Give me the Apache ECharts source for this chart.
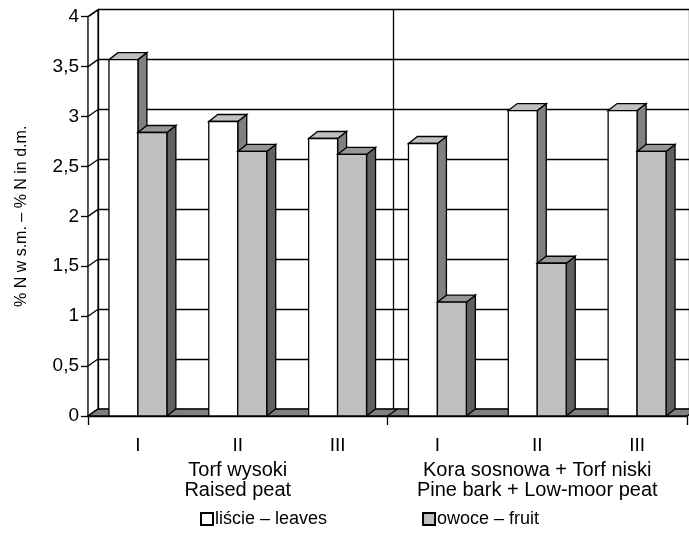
<!DOCTYPE html>
<html>
<head>
<meta charset="utf-8">
<script src="https://cdn.jsdelivr.net/npm/echarts@6/dist/echarts.min.js"></script>
<style>
  html, body { margin: 0; padding: 0; background: #fff; }
  #chart { width: 689px; height: 544px; }
</style>
</head>
<body>
<div id="chart"></div>
<script>
// Nitrogen content (% of dry matter) in leaves and fruit, per substrate and treatment
const categories = ['I', 'II', 'III', 'I', 'II', 'III'];
const groups = ['Torf wysoki\nRaised peat', 'Kora sosnowa + Torf niski\nPine bark + Low-moor peat'];
const leaves = [3.57, 2.95, 2.78, 2.73, 3.06, 3.06];
const fruit = [2.84, 2.65, 2.62, 1.14, 1.53, 2.65];
const seriesNames = ['liście – leaves', 'owoce – fruit'];
const yTicks = [0, 0.5, 1, 1.5, 2, 2.5, 3, 3.5, 4];

// plot geometry (front plane) and the oblique depth of the walls / bars
const G = { left: 88, top: 16.7, width: 599, height: 399.3 };
const WALL = { dx: 10, dy: -7 };
const BAR = { dx: 9, dy: -7, width: 0.29 };
const FONT = 'Liberation Sans, Arial, sans-serif';
const FS = 19;

const chart = echarts.init(document.getElementById('chart'), null, { renderer: 'canvas' });

// 3D-looking column: front face, top face, right side face
function columnRenderer(offsetSign, colors) {
  return function (params, api) {
    const i = api.value(0);
    const v = api.value(1);
    const base = api.coord([i, 0]);
    const top = api.coord([i, v]);
    const bw = api.size([1, 0])[0] * BAR.width;
    const x0 = offsetSign < 0 ? base[0] - bw : base[0];
    const x1 = x0 + bw;
    const y0 = top[1];
    const y1 = base[1];
    const line = { stroke: '#000', lineWidth: 1.3 };
    return {
      type: 'group',
      children: [
        { type: 'polygon', shape: { points: [[x1, y1], [x1 + BAR.dx, y1 + BAR.dy], [x1 + BAR.dx, y0 + BAR.dy], [x1, y0]] },
          style: Object.assign({ fill: colors.side }, line) },
        { type: 'polygon', shape: { points: [[x0, y0], [x0 + BAR.dx, y0 + BAR.dy], [x1 + BAR.dx, y0 + BAR.dy], [x1, y0]] },
          style: Object.assign({ fill: colors.top }, line) },
        { type: 'rect', shape: { x: x0, y: y0, width: bw, height: y1 - y0 },
          style: Object.assign({ fill: colors.front }, line) }
      ]
    };
  };
}

// left wall and floor of the plot box, built from the axis scales
function boxRenderer(params, api) {
  if (params.dataIndex !== 0) return null;
  const half = api.size([1, 0])[0] / 2;
  const edge = function (catIndex, v) {
    const p = api.coord([catIndex, v]);
    return [p[0] - half, p[1]];
  };
  const children = [];
  const line = { stroke: '#000', lineWidth: 1.3 };
  const f0 = edge(0, 0);
  const fN = edge(categories.length, 0);
  const f4 = edge(0, yTicks[yTicks.length - 1]);
  // left wall
  children.push({ type: 'polygon', shape: { points: [f0, f4, [f4[0] + WALL.dx, f4[1] + WALL.dy], [f0[0] + WALL.dx, f0[1] + WALL.dy]] },
    style: { fill: '#fff', stroke: '#000', lineWidth: 1.3 } });
  yTicks.forEach(function (t) {
    const p = edge(0, t);
    children.push({ type: 'line', shape: { x1: p[0], y1: p[1], x2: p[0] + WALL.dx, y2: p[1] + WALL.dy }, style: line });
  });
  // floor
  children.push({ type: 'polygon', shape: { points: [f0, fN, [fN[0] + WALL.dx, fN[1] + WALL.dy], [f0[0] + WALL.dx, f0[1] + WALL.dy]] },
    style: { fill: '#808080', stroke: '#000', lineWidth: 1.3 } });
  const mid = edge(3, 0);
  children.push({ type: 'line', shape: { x1: mid[0], y1: mid[1], x2: mid[0] + WALL.dx, y2: mid[1] + WALL.dy }, style: line });
  return { type: 'group', children: children };
}

const option = {
  animation: false,
  textStyle: { fontFamily: FONT },
  grid: [
    { left: G.left, top: G.top, width: G.width, height: G.height },
    { left: G.left + WALL.dx, top: G.top + WALL.dy, width: G.width, height: G.height }
  ],
  xAxis: [
    { // treatment labels
      type: 'category', gridIndex: 0, data: categories, boundaryGap: true, position: 'bottom',
      axisLine: { show: true, lineStyle: { color: '#000', width: 1.3 } },
      axisTick: { show: false },
      axisLabel: { color: '#000', fontSize: FS, fontFamily: FONT, margin: 20, interval: 0 },
      splitLine: { show: false }
    },
    { // group boundary ticks
      type: 'value', gridIndex: 0, min: 0, max: 6, interval: 3, position: 'bottom', offset: 0,
      axisLine: { show: false },
      axisTick: { show: true, length: 9, lineStyle: { color: '#000', width: 1.3 } },
      axisLabel: { show: false }, splitLine: { show: false }
    },
    { // substrate group labels
      type: 'category', gridIndex: 0, data: groups, position: 'bottom', offset: 0,
      axisLine: { show: false }, axisTick: { show: false },
      axisLabel: { color: '#000', fontSize: 20, fontFamily: FONT, margin: 44, lineHeight: 20, interval: 0 },
      splitLine: { show: false }
    },
    { // back wall vertical lines
      type: 'value', gridIndex: 1, min: 0, max: 6, interval: 3,
      axisLine: { show: false }, axisTick: { show: false }, axisLabel: { show: false },
      splitLine: { show: true, lineStyle: { color: '#000', width: 1.3 } }
    }
  ],
  yAxis: [
    {
      type: 'value', gridIndex: 0, min: 0, max: 4, interval: 0.5,
      name: '% N w s.m. – % N in d.m.', nameLocation: 'middle', nameGap: 58, nameRotate: 90,
      nameTextStyle: { color: '#000', fontSize: 16, fontFamily: FONT },
      axisLine: { show: true, lineStyle: { color: '#000', width: 1.3 } },
      axisTick: { show: true, length: 7, lineStyle: { color: '#000', width: 1.3 } },
      axisLabel: { color: '#000', fontSize: FS, fontFamily: FONT, margin: 9,
        formatter: function (v) { return String(v).replace('.', ','); } },
      splitLine: { show: false }
    },
    {
      type: 'value', gridIndex: 1, min: 0, max: 4, interval: 0.5,
      axisLine: { show: false }, axisTick: { show: false }, axisLabel: { show: false },
      splitLine: { show: true, lineStyle: { color: '#000', width: 1.3 } }
    }
  ],
  legend: {
    top: 505, left: 195, itemGap: 95, itemWidth: 12, itemHeight: 12, icon: 'rect',
    textStyle: { color: '#000', fontSize: 18, fontFamily: FONT, padding: [0, 0, 0, -3] },
    data: seriesNames
  },
  series: [
    {
      type: 'custom', name: 'box', xAxisIndex: 0, yAxisIndex: 0, silent: true, z: 1,
      renderItem: boxRenderer, data: [[0, 0]]
    },
    {
      type: 'custom', name: seriesNames[0], xAxisIndex: 0, yAxisIndex: 0, z: 3,
      itemStyle: { color: '#ffffff', borderColor: '#000', borderWidth: 1 },
      renderItem: columnRenderer(-1, { front: '#ffffff', top: '#c0c0c0', side: '#808080' }),
      data: leaves.map(function (v, i) { return [i, v]; })
    },
    {
      type: 'custom', name: seriesNames[1], xAxisIndex: 0, yAxisIndex: 0, z: 3,
      itemStyle: { color: '#c0c0c0', borderColor: '#000', borderWidth: 1 },
      renderItem: columnRenderer(1, { front: '#c0c0c0', top: '#969696', side: '#606060' }),
      data: fruit.map(function (v, i) { return [i, v]; })
    }
  ]
};

chart.setOption(option);
</script>
</body>
</html>
